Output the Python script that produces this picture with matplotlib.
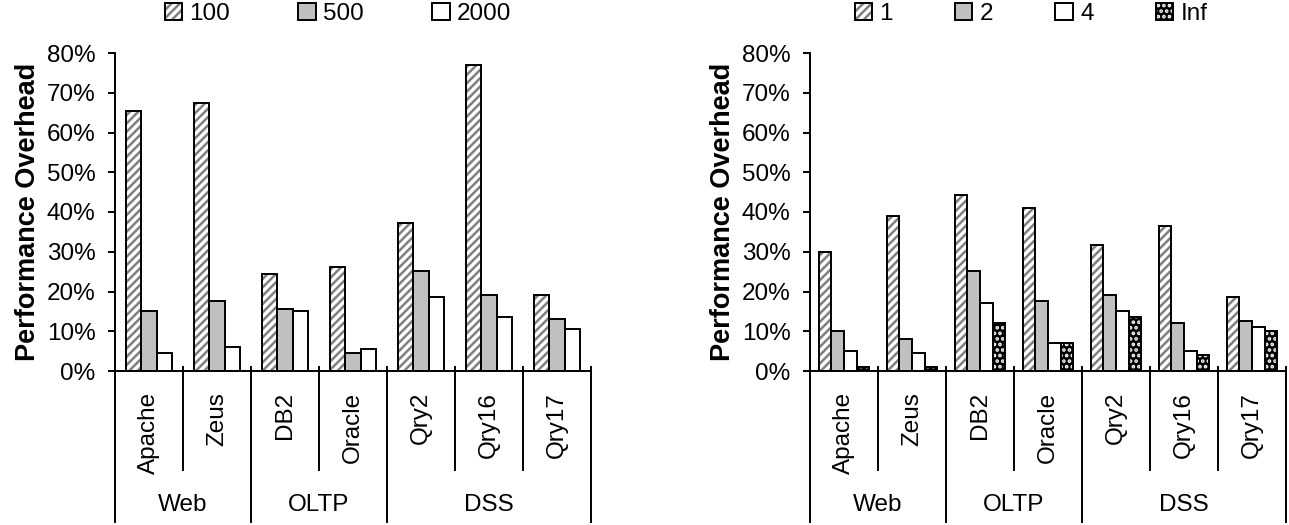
import numpy as np
import matplotlib.pyplot as plt
from matplotlib.transforms import blended_transform_factory
from matplotlib.ticker import FuncFormatter

plt.rcParams['font.family'] = ['Liberation Sans', 'DejaVu Sans']
plt.rcParams['hatch.linewidth'] = 1.8

#--------- data ---------
benchmarks = ["Apache", "Zeus", "DB2", "Oracle", "Qry2", "Qry16", "Qry17"]
groups = ["Web", "OLTP", "DSS"]
group_sizes = [2, 2, 3]

left_names = ["100", "500", "2000"]
left_100 = [65.4, 67.4, 24.5, 26.1, 37.2, 77.0, 19.0]
left_500 = [15.0, 17.5, 15.5, 4.5, 25.1, 19.0, 13.1]
left_2000 = [4.5, 6.0, 15.0, 5.5, 18.5, 13.6, 10.5]

right_names = ["1", "2", "4", "Inf"]
right_1 = [30.0, 39.1, 44.2, 41.1, 31.6, 36.6, 18.6]
right_2 = [10.0, 8.0, 25.1, 17.5, 19.0, 12.1, 12.5]
right_4 = [5.0, 4.5, 17.0, 7.0, 15.0, 5.0, 11.0]
right_inf = [1.0, 1.0, 12.0, 7.0, 13.6, 4.0, 10.1]

# (face, hatch, hatch colour)
styles = [("white", "////", "#808080"),
          ("#c0c0c0", None, "#c0c0c0"),
          ("white", None, "white"),
          ("black", "...", "white")]

FS = 17.5
LW = 1.4


def draw_panel(ax, series, names, width, leg_x, colspace):
    n = len(series)
    x = np.arange(len(benchmarks))
    handles = []
    for i, vals in enumerate(series):
        face, hatch, hcol = styles[i]
        xi = x - n * width / 2 + width * (i + 0.5)
        b1 = ax.bar(xi, vals, width, color=face, hatch=hatch, edgecolor=hcol, linewidth=0)
        b2 = ax.bar(xi, vals, width, fill=False, edgecolor="black", linewidth=LW)
        handles.append((b1[0], b2[0]))

    ax.set_xlim(-0.5, len(benchmarks) - 0.5)
    ax.set_ylim(0, 80)
    ax.set_yticks(range(0, 81, 10))
    ax.yaxis.set_major_formatter(FuncFormatter(lambda v, p: "%d%%" % v))
    ax.set_xticks([])
    ax.tick_params(axis="y", labelsize=FS, length=5, width=LW, pad=9)
    for s in ["top", "right"]:
        ax.spines[s].set_visible(False)
    for s in ["left", "bottom"]:
        ax.spines[s].set_linewidth(LW)
    ax.set_ylabel("Performance Overhead", fontsize=19.5, fontweight="bold")
    ax.yaxis.set_label_coords(-0.155, 0.5)

    # category / group axis below the plot
    trans = blended_transform_factory(ax.transData, ax.transAxes)
    bounds = np.cumsum([0] + group_sizes)
    for k in range(len(benchmarks) + 1):
        bottom = -0.475 if k in bounds else -0.311
        ax.plot([k - 0.5, k - 0.5], [0.012, bottom], color="black", lw=LW,
                transform=trans, clip_on=False)
    for i, name in enumerate(benchmarks):
        ax.text(i, -0.066, name, rotation=90, ha="center", va="top",
                fontsize=FS, transform=trans)
    for g, name in enumerate(groups):
        mid = (bounds[g] + bounds[g + 1] - 1) / 2
        ax.text(mid, -0.421, name, ha="center", va="center", fontsize=FS,
                transform=trans)

    fig.legend(handles, names, loc="center", bbox_to_anchor=(leg_x, 1 - 14 / 525),
               ncol=len(names), frameon=False, fontsize=FS, handlelength=0.72,
               handleheight=0.72, handletextpad=0.3, columnspacing=colspace,
               borderpad=0)


fig = plt.figure(figsize=(12.89, 5.25), dpi=100)
ax1 = fig.add_axes([115 / 1289, 154 / 525, 476 / 1289, 318 / 525])
ax2 = fig.add_axes([810 / 1289, 154 / 525, 476 / 1289, 318 / 525])

draw_panel(ax1, [left_100, left_500, left_2000], left_names, 0.23, 338 / 1289, 2.8)
draw_panel(ax2, [right_1, right_2, right_4, right_inf], right_names, 0.185, 1031 / 1289, 2.55)

fig.savefig("out.png", dpi=100)
